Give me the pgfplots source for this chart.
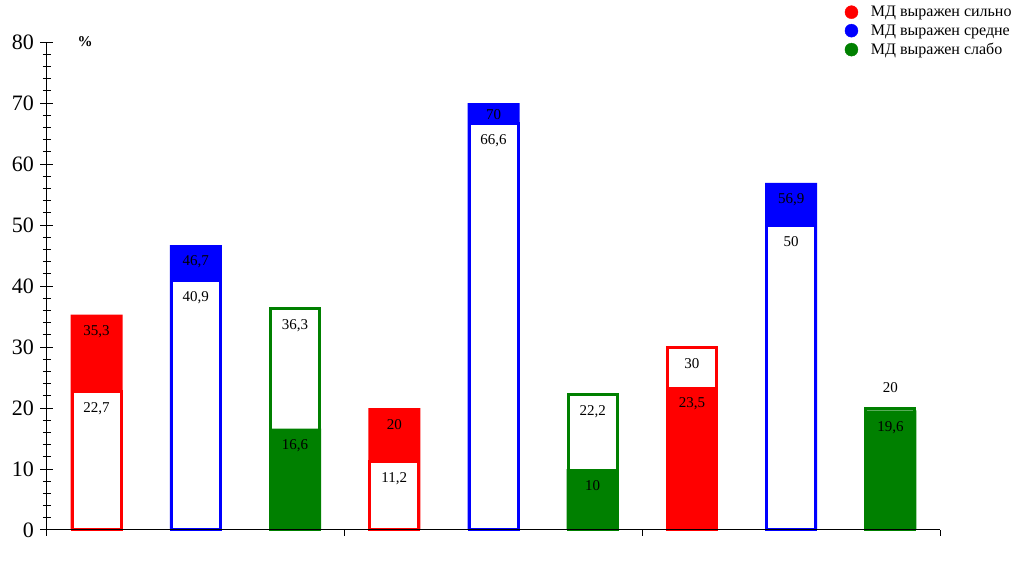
\documentclass[border=0pt]{standalone}
\usepackage{pgfplots}
\pgfplotsset{compat=1.18}
\usepackage{fontspec}
\setmainfont{Liberation Serif}
\definecolor{cR}{RGB}{255,0,0}
\definecolor{cB}{RGB}{0,0,255}
\definecolor{cG}{RGB}{0,128,0}
\begin{document}
\begin{tikzpicture}
\path[use as bounding box] (-47pt,-35pt) rectangle (971pt,530pt);
\pgfplotsset{
  filledbar/.style={ybar, bar shift=0pt, bar width=52pt, fill=#1, draw=none},
  linebar/.style={ybar, bar shift=0pt, bar width=49pt, fill=white, draw=#1, line width=3pt},
}
\begin{axis}[
  at={(0,0)}, anchor=south west,
  scale only axis, width=893pt, height=488pt,
  xmin=0, xmax=9, ymin=0, ymax=80,
  axis x line=bottom, axis y line=left,
  axis line style={-, line width=1pt},
  xtick=\empty,
  ytick={0,10,...,80},
  minor y tick num=4,
  tick align=center,
  major tick length=13pt, minor tick length=8pt,
  tick style={black, line width=1pt},
  /pgf/number format/assume math mode=true,
  yticklabel style={font=\fontsize{22}{22}\selectfont, xshift=-3pt},
  clip=false,
  legend style={draw=none, fill=none, font=\fontsize{16}{16}\selectfont,
    at={(axis description cs:0.89,1.082)}, anchor=north west, row sep=2.5pt, column sep=11pt},
  legend cell align=left,
]
\addlegendimage{only marks, mark=*, mark size=6.5pt, color=cR}
\addlegendimage{only marks, mark=*, mark size=6.5pt, color=cB}
\addlegendimage{only marks, mark=*, mark size=6.5pt, color=cG}
% outer bars
\addplot[filledbar=cR] coordinates {(0.5,35.3) (3.5,20)};
\addplot[filledbar=cB] coordinates {(1.5,46.7) (4.5,70) (7.5,56.9)};
\addplot[linebar=cR] coordinates {(6.5,30)};
\addplot[linebar=cG] coordinates {(2.5,36.3) (5.5,22.2) (8.5,20)};
% inner bars
\addplot[linebar=cR] coordinates {(0.5,22.7) (3.5,11.2)};
\addplot[linebar=cB] coordinates {(1.5,40.9) (4.5,66.6) (7.5,50)};
\addplot[filledbar=cR] coordinates {(6.5,23.5)};
\addplot[filledbar=cG] coordinates {(2.5,16.6) (5.5,10) (8.5,19.6)};
% value labels
\addplot[draw=none, mark=none, nodes near coords, point meta=explicit symbolic,
  nodes near coords style={anchor=center, yshift=-17pt, font=\fontsize{15}{15}\selectfont, black}]
  table[meta=l] {
x y l
0.5 35.3 35,3
0.5 22.7 22,7
1.5 46.7 46,7
1.5 40.9 40,9
2.5 36.3 36,3
2.5 16.6 16,6
3.5 20 20
3.5 11.2 11,2
4.5 66.6 66,6
5.5 22.2 22,2
5.5 10 10
6.5 30 30
6.5 23.5 23,5
7.5 56.9 56,9
7.5 50 50
8.5 19.6 19,6
};
\addplot[draw=none, mark=none, nodes near coords, point meta=explicit symbolic,
  nodes near coords style={anchor=center, yshift=-12pt, font=\fontsize{15}{15}\selectfont, black}]
  table[meta=l] {
x y l
4.5 70 70
};
\addplot[draw=none, mark=none, nodes near coords, point meta=explicit symbolic,
  nodes near coords style={anchor=center, yshift=20pt, font=\fontsize{15}{15}\selectfont, black}]
  table[meta=l] {
x y l
8.5 20 20
};
\node[font=\bfseries\fontsize{15}{15}\selectfont] at (rel axis cs:0.0426,1) {\%};
\legend{МД выражен сильно, МД выражен средне, МД выражен слабо}
\end{axis}
\begin{axis}[
  at={(0,0)}, anchor=south west,
  scale only axis, width=893pt, height=488pt,
  xmin=0, xmax=9, ymin=0, ymax=80,
  axis x line=bottom, hide y axis,
  axis line style={-, line width=1pt},
  xtick={0,3,6,9}, xticklabels={},
  tick align=outside, major tick length=6pt,
  tick style={black, line width=1pt},
]
\end{axis}
\end{tikzpicture}
\end{document}
